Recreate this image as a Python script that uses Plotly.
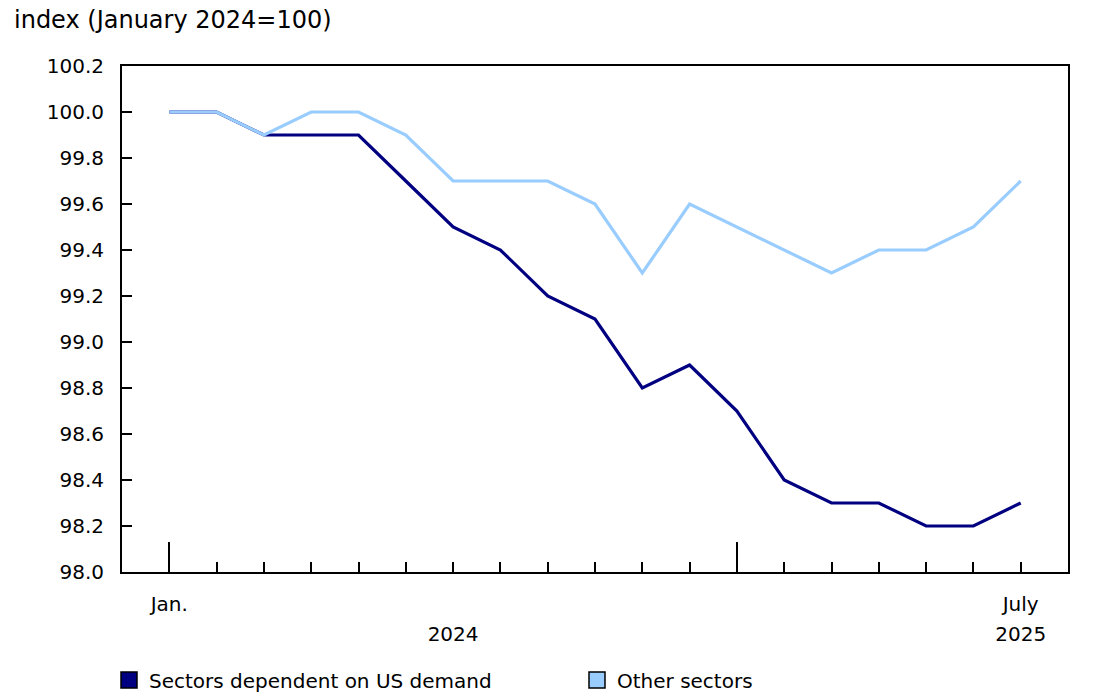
import plotly.graph_objects as go

months = ["2024-01", "2024-02", "2024-03", "2024-04", "2024-05", "2024-06", "2024-07",
          "2024-08", "2024-09", "2024-10", "2024-11", "2024-12", "2025-01", "2025-02",
          "2025-03", "2025-04", "2025-05", "2025-06", "2025-07"]
us_dependent = [100.0, 100.0, 99.9, 99.9, 99.9, 99.7, 99.5, 99.4, 99.2, 99.1, 98.8, 98.9,
                98.7, 98.4, 98.3, 98.3, 98.2, 98.2, 98.3]
other_sectors = [100.0, 100.0, 99.9, 100.0, 100.0, 99.9, 99.7, 99.7, 99.7, 99.6, 99.3, 99.6,
                 99.5, 99.4, 99.3, 99.4, 99.4, 99.5, 99.7]
month_labels = ["Jan.", "", "", "", "", "", "", "", "", "", "", "", "", "", "", "", "", "", "July"]
year_labels = ["2024", "2025"]
year_label_pos = [6, 18]
year_tick_pos = [0, 12]
y_ticks = [98.0, 98.2, 98.4, 98.6, 98.8, 99.0, 99.2, 99.4, 99.6, 99.8, 100.0, 100.2]

DARK = "#000080"
LIGHT = "#99CCFF"
FONT = "Verdana, DejaVu Sans, sans-serif"
FS = 20

idx = list(range(len(months)))

fig = go.Figure()
fig.add_trace(go.Scatter(x=idx, y=us_dependent, mode="lines",
                         line=dict(color=DARK, width=3.2), showlegend=False,
                         name="Sectors dependent on US demand"))
fig.add_trace(go.Scatter(x=idx, y=other_sectors, mode="lines",
                         line=dict(color=LIGHT, width=3.2), showlegend=False,
                         name="Other sectors"))
# legend entries with square swatches
fig.add_trace(go.Scatter(x=[None], y=[None], mode="markers", name="Sectors dependent on US demand",
                         marker=dict(symbol="square", size=20, color=DARK,
                                     line=dict(color="black", width=1.5))))
fig.add_trace(go.Scatter(x=[None], y=[None], mode="markers", name="Other sectors",
                         marker=dict(symbol="square", size=20, color=LIGHT,
                                     line=dict(color="black", width=1.5))))
# dummy traces to activate overlay axes
fig.add_trace(go.Scatter(x=[None], y=[None], xaxis="x2", showlegend=False, hoverinfo="skip"))
fig.add_trace(go.Scatter(x=[None], y=[None], xaxis="x3", showlegend=False, hoverinfo="skip"))

xr = [-1, 19]
W, H = 1093, 689
ML, MR, MT, MB = 114, 33, 58, 125
PW, PH = W - ML - MR, H - MT - MB
fig.update_layout(
    width=W, height=H,
    margin=dict(l=ML, r=MR, t=MT, b=MB, autoexpand=False),
    plot_bgcolor="white", paper_bgcolor="white",
    font=dict(family=FONT, size=FS, color="black"),
    title=dict(text="index (January 2024=100)", x=6 / W, xanchor="left",
               xref="container", y=1 - 12 / H, yanchor="middle", yref="container",
               font=dict(family=FONT, size=24, color="black")),
    xaxis=dict(range=xr, tickmode="array", tickvals=idx, ticktext=month_labels,
               ticks="inside", ticklen=10, tickwidth=2, tickcolor="black",
               showline=True, linecolor="black", linewidth=2, mirror=True,
               showgrid=False, zeroline=False, ticklabelstandoff=13, automargin=False,
               tickfont=dict(family=FONT, size=FS)),
    xaxis2=dict(range=xr, overlaying="x", anchor="y", side="bottom", tickmode="array",
                tickvals=year_tick_pos, ticktext=["", ""], ticks="inside", ticklen=30,
                tickwidth=2, tickcolor="black", showline=False, showgrid=False,
                zeroline=False, showticklabels=False, automargin=False),
    xaxis3=dict(range=xr, overlaying="x", anchor="y", side="bottom", tickmode="array",
                tickvals=year_label_pos, ticktext=year_labels, ticks="",
                showline=False, showgrid=False, zeroline=False, ticklabelstandoff=48,
                automargin=False, tickfont=dict(family=FONT, size=FS)),
    yaxis=dict(range=[98.0, 100.2], tickmode="array", tickvals=y_ticks,
               ticktext=[f"{v:.1f}" for v in y_ticks],
               ticks="inside", ticklen=10, tickwidth=2, tickcolor="black",
               showline=True, linecolor="black", linewidth=2, mirror=True,
               showgrid=False, zeroline=False, ticklabelstandoff=12, automargin=False,
               tickfont=dict(family=FONT, size=FS)),
    legend=dict(orientation="h", x=-13 / PW, xanchor="left", xref="paper",
                y=-108 / PH, yanchor="middle", entrywidth=423, entrywidthmode="pixels",
                font=dict(family=FONT, size=FS), itemsizing="trace",
                tracegroupgap=0, bgcolor="rgba(0,0,0,0)"),
)

fig.write_html("out.html")
